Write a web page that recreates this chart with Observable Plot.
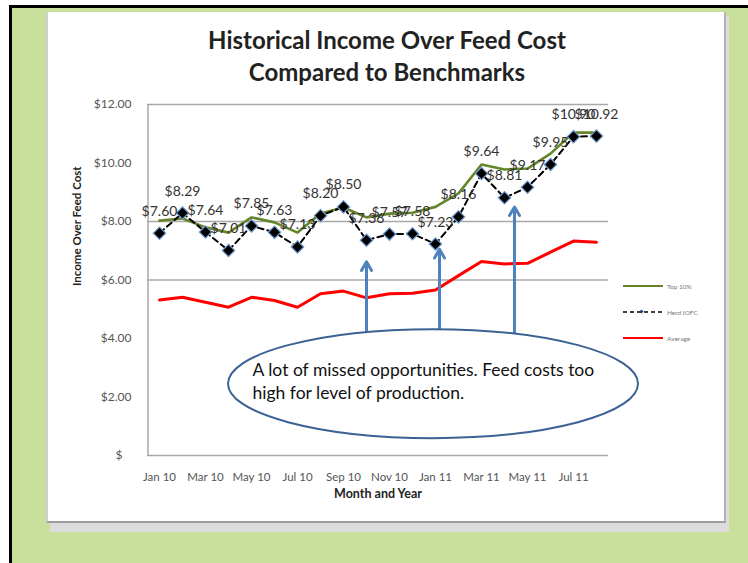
<!DOCTYPE html>
<html>
<head>
<meta charset="utf-8">
<script src="https://cdn.jsdelivr.net/npm/d3@7"></script>
<script src="https://cdn.jsdelivr.net/npm/@observablehq/plot@0.6"></script>
<style>
  html, body { margin: 0; padding: 0; background: #fff; }
  #page { position: relative; width: 748px; height: 563px; overflow: hidden; font-family: Lato, "Open Sans", sans-serif; }
  #frame { position: absolute; left: 9px; top: 5px; width: 739px; height: 558px; box-sizing: border-box;
           border-left: 3px solid #000; border-top: 3px solid #000; background: #c8e09b; }
  #shadow { position: absolute; left: 50px; top: 16px; width: 679px; height: 516px; background: #dcdcdc; }
  #panel { position: absolute; left: 46px; top: 12px; width: 680px; height: 511px; box-sizing: border-box; background: #fff;
           border-left: 2px solid #cfcfcf; border-right: 2px solid #b3b3b3; border-bottom: 2px solid #9c9c9c; }
  #title { position: absolute; left: 0; top: 24px; width: 774px; text-align: center; font-weight: bold; font-size: 24px;
           line-height: 32px; color: #222; }
  #chart { position: absolute; left: 0; top: 0; }
  #legend { position: absolute; left: 618px; top: 276px; }
</style>
</head>
<body>
<div id="page">
  <div id="frame"></div>
  <div id="shadow"></div>
  <div id="panel"></div>
  <div id="title">Historical Income Over Feed Cost<br>Compared to Benchmarks</div>
  <div id="chart"></div>
  <div id="legend"></div>
</div>
<script>
// ---- data ----
const months = ["Jan 10","Feb 10","Mar 10","Apr 10","May 10","Jun 10","Jul 10","Aug 10","Sep 10","Oct 10",
                "Nov 10","Dec 10","Jan 11","Feb 11","Mar 11","Apr 11","May 11","Jun 11","Jul 11","Aug 11"];
const herdIOFC = [7.60, 8.29, 7.64, 7.01, 7.85, 7.63, 7.13, 8.20, 8.50, 7.36,
                  7.57, 7.58, 7.23, 8.16, 9.64, 8.81, 9.17, 9.95, 10.90, 10.92];
const top10 = [8.03, 8.10, 7.80, 7.62, 8.14, 7.97, 7.62, 8.27, 8.48, 8.14,
               8.27, 8.30, 8.50, 8.96, 9.95, 9.78, 9.81, 10.32, 11.04, 11.04];
const average = [5.32, 5.41, 5.24, 5.07, 5.41, 5.30, 5.07, 5.53, 5.62, 5.39,
                 5.53, 5.55, 5.66, 6.15, 6.63, 6.55, 6.57, 6.95, 7.33, 7.29];
const yTicks = [2, 4, 6, 8, 10, 12];
const gridValues = [6, 8, 12];
const xTickLabels = ["Jan 10","Mar 10","May 10","Jul 10","Sep 10","Nov 10","Jan 11","Mar 11","May 11","Jul 11"];
const seriesNames = ["Top 10%", "Herd IOFC", "Average"];
const seriesColors = ["#64852a", "#000000", "#ff0000"];
// annotation
const arrowMonths = ["Oct 10", "Jan 11", "Apr 11"];
const arrowShift = [0, 4, 10];
const arrowBase = [4.22, 4.3, 4.17];
const arrowTip = [6.62, 7.05, 8.5];
const noteText = "A lot of missed opportunities. Feed costs too\nhigh for level of production.";

const data = months.map((m, i) => ({month: m, herd: herdIOFC[i], top: top10[i], avg: average[i]}));
const arrows = arrowMonths.map((m, i) => ({month: m, base: arrowBase[i], tip: arrowTip[i], shift: arrowShift[i]}));

const ellipseMark = (index, scales) => {
  const cx = scales.x("Jan 11") - 2, cy = scales.y(2.44);
  const el = document.createElementNS("http://www.w3.org/2000/svg", "ellipse");
  el.setAttribute("cx", cx); el.setAttribute("cy", cy);
  el.setAttribute("rx", 205); el.setAttribute("ry", 54.5);
  el.setAttribute("fill", "#fff"); el.setAttribute("stroke", "#3b6295"); el.setAttribute("stroke-width", 2);
  return el;
};

const chart = Plot.plot({
  width: 748, height: 563,
  marginLeft: 147, marginRight: 140, marginTop: 104, marginBottom: 108,
  x: {type: "point", domain: months, padding: 0.5},
  y: {domain: [0, 12]},
  style: {background: "transparent", fontFamily: "Lato, 'Open Sans', sans-serif", overflow: "visible"},
  marks: [
    Plot.ruleY(gridValues, {stroke: "#a8a8a8", strokeWidth: 1.5}),
    Plot.ruleY([0], {stroke: "#a8a8a8", strokeWidth: 1.5}),
    Plot.ruleX([months[0]], {y1: 0, y2: 12, dx: -11.5, stroke: "#a8a8a8", strokeWidth: 1.5}),
    Plot.axisY(yTicks, {tickFormat: d => "$" + d.toFixed(2), tickSize: 0, tickPadding: 16, fontSize: 12, fill: "#555", label: null}),
    Plot.text([0], {y: d => d, frameAnchor: "left", dx: -32, textAnchor: "start", text: () => "$", fontSize: 12, fill: "#555"}),
    Plot.axisX(xTickLabels, {tickSize: 0, tickPadding: 17, fontSize: 11.5, fill: "#555", label: null}),
    Plot.text(["Month and Year"], {frameAnchor: "bottom", dy: 42, fontWeight: "bold", fontSize: 12.5, fill: "#222"}),
    Plot.text(["Income Over Feed Cost"], {frameAnchor: "left", dx: -70, dy: 6, rotate: -90, fontWeight: "bold", fontSize: 11.5, fill: "#222"}),
    Plot.line(data, {x: "month", y: "avg", stroke: seriesColors[2], strokeWidth: 3}),
    Plot.line(data, {x: "month", y: "top", stroke: seriesColors[0], strokeWidth: 2.6}),
    Plot.line(data, {x: "month", y: "herd", stroke: seriesColors[1], strokeWidth: 2, strokeDasharray: "6,4"}),
    Plot.dot(data, {x: "month", y: "herd", symbol: "diamond2", r: 5.6, fill: "#000", stroke: "#6f9bd0", strokeWidth: 1.2}),
    Plot.text(data, {x: "month", y: "herd", text: d => "$" + d.herd.toFixed(2), dy: -22, fontSize: 14, fill: "#333"}),
    ...arrows.map(a => Plot.arrow([a], {x1: "month", x2: "month", y1: "base", y2: "tip", dx: a.shift,
        stroke: "#4f81bd", strokeWidth: 3, headLength: 5, bend: 0})),
    ellipseMark,
    Plot.text([noteText], {x: () => "Jan 11", y: () => 2.44, dx: -183, dy: -4, textAnchor: "start", fontSize: 17.5, lineHeight: 1.33, fill: "#111"})
  ]
});
document.getElementById("chart").appendChild(chart);

// legend
const ns = "http://www.w3.org/2000/svg";
const lg = document.createElementNS(ns, "svg");
lg.setAttribute("width", 100); lg.setAttribute("height", 75);
seriesNames.forEach((name, i) => {
  const y = 10 + i * 26;
  const ln = document.createElementNS(ns, "line");
  ln.setAttribute("x1", 5); ln.setAttribute("x2", 45); ln.setAttribute("y1", y); ln.setAttribute("y2", y);
  ln.setAttribute("stroke", seriesColors[i]); ln.setAttribute("stroke-width", i === 1 ? 1.6 : 2);
  if (i === 1) ln.setAttribute("stroke-dasharray", "4,3");
  lg.appendChild(ln);
  if (i === 1) {
    const d = document.createElementNS(ns, "rect");
    d.setAttribute("x", 22); d.setAttribute("y", y - 2); d.setAttribute("width", 3); d.setAttribute("height", 3);
    d.setAttribute("fill", "#1f3f6f"); d.setAttribute("transform", `rotate(45 23.5 ${y - 0.5})`);
    lg.appendChild(d);
  }
  const t = document.createElementNS(ns, "text");
  t.setAttribute("x", 49); t.setAttribute("y", y + 2.5); t.setAttribute("font-size", 6.5);
  t.setAttribute("fill", "#777"); t.setAttribute("font-family", "Lato, sans-serif");
  t.textContent = name;
  lg.appendChild(t);
});
document.getElementById("legend").appendChild(lg);
</script>
</body>
</html>
